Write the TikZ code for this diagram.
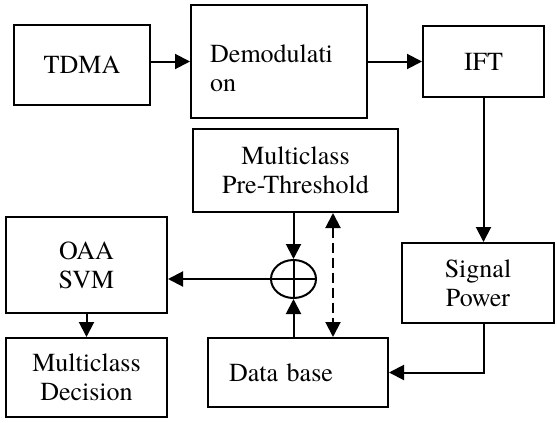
\documentclass[tikz,border=0pt]{standalone}
\usepackage{fontspec}
\setmainfont{texgyretermes}[Extension=.otf,UprightFont=*-regular]
\usetikzlibrary{arrows.meta,shapes.geometric}
\begin{document}
\begin{tikzpicture}[x=1pt,y=-1pt,
  every node/.style={font=\rmfamily\fontsize{26}{29}\selectfont},
  box/.style={draw,line width=2pt,inner sep=0pt,align=center},
  arr/.style={line width=2pt,-{Triangle[length=15pt,width=15pt]}},
  twoarr/.style={line width=2pt,{Triangle[length=15pt,width=15pt]}-{Triangle[length=15pt,width=15pt]}},
  dashline/.style={dash pattern=on 10pt off 5pt}]
\useasboundingbox (0,0) rectangle (557,423);

% processing chain
\node[box,minimum width=136,minimum height=80] (tdma) at (82,65) {TDMA};
\node[box,minimum width=176,minimum height=113] (demod) at (279,61.5) {};
\node[align=left,anchor=west,inner sep=0pt] (demodtext) at (210,68) {Demodulati\\on};
\node[box,minimum width=121,minimum height=71] (ift) at (483.5,61.5) {IFT};
\node[box,minimum width=152,minimum height=80] (sig) at (478,283) {Signal\\Power};
\node[box,minimum width=180,minimum height=69,text width=138,inner xsep=21pt,align=left] (db) at (298,372.5) {Data base};
\node[box,minimum width=205,minimum height=83] (pt) at (295.5,170.5) {Multiclass\\Pre-Threshold};
\node[box,minimum width=161,minimum height=96] (oaa) at (86.5,265) {OAA\\SVM};
\node[box,minimum width=161,minimum height=79] (dec) at (86.5,377.5) {Multiclass\\Decision};

% summing junction
\node[draw,ellipse,line width=2pt,minimum width=45,minimum height=38,inner sep=0pt] (sum) at (293.5,279) {};
\draw[line width=2pt] (sum.west) -- (sum.east) (sum.north) -- (sum.south);

\coordinate (dashx) at (333,0);

% connectors
\draw[arr] (tdma.east |- demod.west) -- (demod.west);
\draw[arr] (demod.east) -- (demod.east -| ift.west);
\draw[arr] (ift.south) -- (ift.south |- sig.north);
\draw[arr] (sig.south -| ift.south) |- (db.east);
\draw[arr] (sum.north |- pt.south) -- (sum.north);
\draw[arr] (sum.south |- db.north) -- (sum.south);
\draw[twoarr,dashline] (pt.south -| dashx) -- (db.north -| dashx);
\draw[arr] (sum.west) -- (sum.west -| oaa.east);
\draw[arr] (oaa.south) -- (dec.north);
\end{tikzpicture}
\end{document}
